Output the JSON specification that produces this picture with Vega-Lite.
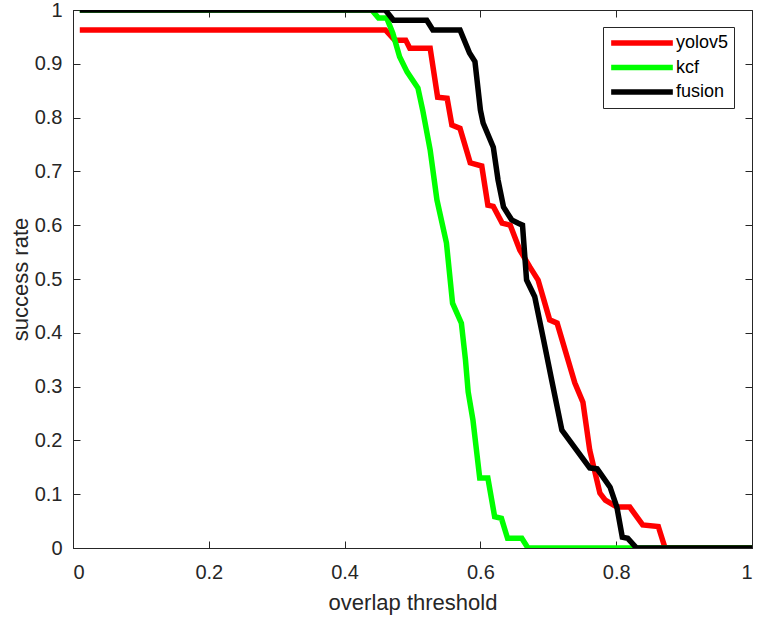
{
  "$schema": "https://vega.github.io/schema/vega-lite/v6.json",
  "width": 679,
  "height": 538,
  "autosize": {"type": "none"},
  "padding": {"left": 73, "top": 10, "right": 13, "bottom": 74},
  "background": "white",
  "config": {
    "font": "Liberation Sans",
    "view": {"stroke": "#262626", "strokeWidth": 1},
    "axis": {
      "grid": false,
      "domainColor": "#262626",
      "tickColor": "#262626",
      "labelColor": "#262626",
      "titleColor": "#262626",
      "labelFont": "Liberation Sans",
      "titleFont": "Liberation Sans",
      "labelFontSize": 20,
      "titleFontSize": 22,
      "titleFontWeight": "normal"
    }
  },
  "data": {
    "values": [
      {"x": 0.01, "y": 0.963, "s": "yolov5"},
      {"x": 0.46, "y": 0.963, "s": "yolov5"},
      {"x": 0.474, "y": 0.944, "s": "yolov5"},
      {"x": 0.49, "y": 0.944, "s": "yolov5"},
      {"x": 0.496, "y": 0.929, "s": "yolov5"},
      {"x": 0.526, "y": 0.929, "s": "yolov5"},
      {"x": 0.537, "y": 0.838, "s": "yolov5"},
      {"x": 0.551, "y": 0.836, "s": "yolov5"},
      {"x": 0.558, "y": 0.786, "s": "yolov5"},
      {"x": 0.57, "y": 0.78, "s": "yolov5"},
      {"x": 0.585, "y": 0.716, "s": "yolov5"},
      {"x": 0.602, "y": 0.71, "s": "yolov5"},
      {"x": 0.611, "y": 0.637, "s": "yolov5"},
      {"x": 0.619, "y": 0.635, "s": "yolov5"},
      {"x": 0.632, "y": 0.604, "s": "yolov5"},
      {"x": 0.644, "y": 0.6, "s": "yolov5"},
      {"x": 0.658, "y": 0.554, "s": "yolov5"},
      {"x": 0.673, "y": 0.522, "s": "yolov5"},
      {"x": 0.685, "y": 0.498, "s": "yolov5"},
      {"x": 0.702, "y": 0.424, "s": "yolov5"},
      {"x": 0.713, "y": 0.418, "s": "yolov5"},
      {"x": 0.739, "y": 0.307, "s": "yolov5"},
      {"x": 0.751, "y": 0.271, "s": "yolov5"},
      {"x": 0.761, "y": 0.182, "s": "yolov5"},
      {"x": 0.776, "y": 0.102, "s": "yolov5"},
      {"x": 0.784, "y": 0.089, "s": "yolov5"},
      {"x": 0.801, "y": 0.076, "s": "yolov5"},
      {"x": 0.82, "y": 0.076, "s": "yolov5"},
      {"x": 0.839, "y": 0.043, "s": "yolov5"},
      {"x": 0.862, "y": 0.04, "s": "yolov5"},
      {"x": 0.872, "y": 0.0, "s": "yolov5"},
      {"x": 1.0, "y": 0.0, "s": "yolov5"},
      {"x": 0.01, "y": 1.0, "s": "kcf"},
      {"x": 0.44, "y": 1.0, "s": "kcf"},
      {"x": 0.45, "y": 0.985, "s": "kcf"},
      {"x": 0.462, "y": 0.985, "s": "kcf"},
      {"x": 0.471, "y": 0.957, "s": "kcf"},
      {"x": 0.481, "y": 0.913, "s": "kcf"},
      {"x": 0.492, "y": 0.885, "s": "kcf"},
      {"x": 0.508, "y": 0.855, "s": "kcf"},
      {"x": 0.515, "y": 0.814, "s": "kcf"},
      {"x": 0.526, "y": 0.74, "s": "kcf"},
      {"x": 0.536, "y": 0.647, "s": "kcf"},
      {"x": 0.55, "y": 0.567, "s": "kcf"},
      {"x": 0.559, "y": 0.455, "s": "kcf"},
      {"x": 0.572, "y": 0.418, "s": "kcf"},
      {"x": 0.578, "y": 0.35, "s": "kcf"},
      {"x": 0.582, "y": 0.29, "s": "kcf"},
      {"x": 0.589, "y": 0.238, "s": "kcf"},
      {"x": 0.599, "y": 0.13, "s": "kcf"},
      {"x": 0.611, "y": 0.13, "s": "kcf"},
      {"x": 0.621, "y": 0.058, "s": "kcf"},
      {"x": 0.631, "y": 0.055, "s": "kcf"},
      {"x": 0.64, "y": 0.018, "s": "kcf"},
      {"x": 0.661, "y": 0.018, "s": "kcf"},
      {"x": 0.67, "y": 0.0, "s": "kcf"},
      {"x": 1.0, "y": 0.0, "s": "kcf"},
      {"x": 0.01, "y": 1.0, "s": "fusion"},
      {"x": 0.46, "y": 1.0, "s": "fusion"},
      {"x": 0.472, "y": 0.981, "s": "fusion"},
      {"x": 0.521, "y": 0.981, "s": "fusion"},
      {"x": 0.53, "y": 0.963, "s": "fusion"},
      {"x": 0.57, "y": 0.963, "s": "fusion"},
      {"x": 0.584, "y": 0.92, "s": "fusion"},
      {"x": 0.592, "y": 0.904, "s": "fusion"},
      {"x": 0.6, "y": 0.814, "s": "fusion"},
      {"x": 0.604, "y": 0.79, "s": "fusion"},
      {"x": 0.619, "y": 0.745, "s": "fusion"},
      {"x": 0.626, "y": 0.684, "s": "fusion"},
      {"x": 0.634, "y": 0.634, "s": "fusion"},
      {"x": 0.646, "y": 0.61, "s": "fusion"},
      {"x": 0.655, "y": 0.604, "s": "fusion"},
      {"x": 0.662, "y": 0.6, "s": "fusion"},
      {"x": 0.668, "y": 0.498, "s": "fusion"},
      {"x": 0.68, "y": 0.467, "s": "fusion"},
      {"x": 0.693, "y": 0.387, "s": "fusion"},
      {"x": 0.705, "y": 0.312, "s": "fusion"},
      {"x": 0.72, "y": 0.219, "s": "fusion"},
      {"x": 0.761, "y": 0.149, "s": "fusion"},
      {"x": 0.772, "y": 0.147, "s": "fusion"},
      {"x": 0.791, "y": 0.113, "s": "fusion"},
      {"x": 0.801, "y": 0.076, "s": "fusion"},
      {"x": 0.809, "y": 0.02, "s": "fusion"},
      {"x": 0.817, "y": 0.018, "s": "fusion"},
      {"x": 0.83, "y": 0.0, "s": "fusion"},
      {"x": 1.0, "y": 0.0, "s": "fusion"}
    ]
  },
  "resolve": {"axis": {"x": "independent", "y": "independent"}},
  "layer": [
    {
      "mark": {"type": "line", "opacity": 0},
      "encoding": {
        "x": {
          "field": "x", "type": "quantitative",
          "scale": {"domain": [0, 1], "nice": false},
          "axis": {"orient": "top", "offset": -7, "tickSize": 7, "values": [0, 0.2, 0.4, 0.6, 0.8, 1], "labels": false, "domain": false, "title": null}
        },
        "y": {
          "field": "y", "type": "quantitative",
          "scale": {"domain": [0, 1], "nice": false},
          "axis": {"orient": "right", "offset": -7, "tickSize": 7, "values": [0, 0.1, 0.2, 0.3, 0.4, 0.5, 0.6, 0.7, 0.8, 0.9, 1], "labels": false, "domain": false, "title": null}
        }
      }
    },
    {
      "mark": {"type": "line", "opacity": 0},
      "encoding": {
        "x": {
          "field": "x", "type": "quantitative",
          "axis": {"orient": "bottom", "offset": -7, "tickSize": 7, "values": [0, 0.2, 0.4, 0.6, 0.8, 1], "labels": false, "domain": false, "title": null}
        },
        "y": {
          "field": "y", "type": "quantitative",
          "axis": {"orient": "left", "offset": -7, "tickSize": 7, "values": [0, 0.1, 0.2, 0.3, 0.4, 0.5, 0.6, 0.7, 0.8, 0.9, 1], "labels": false, "domain": false, "title": null}
        }
      }
    },
    {
      "mark": {"type": "line", "strokeWidth": 5.5, "clip": true},
      "encoding": {
        "x": {
          "field": "x", "type": "quantitative",
          "axis": {
            "orient": "bottom",
            "values": [0, 0.2, 0.4, 0.6, 0.8, 1],
            "format": "~g",
            "title": "overlap threshold",
            "ticks": false,
            "tickSize": 0,
            "labelPadding": 14,
            "titlePadding": 10
          }
        },
        "y": {
          "field": "y", "type": "quantitative",
          "axis": {
            "orient": "left",
            "values": [0, 0.1, 0.2, 0.3, 0.4, 0.5, 0.6, 0.7, 0.8, 0.9, 1],
            "format": "~g",
            "title": "success rate",
            "ticks": false,
            "tickSize": 0,
            "labelPadding": 11,
            "titlePadding": 2
          }
        },
        "color": {
          "field": "s", "type": "nominal",
          "scale": {"domain": ["yolov5", "kcf", "fusion"], "range": ["#ff0000", "#00ff00", "#000000"]},
          "legend": {
            "title": null,
            "orient": "none",
            "legendX": 530,
            "legendY": 17,
            "symbolType": "M-3.9,0H3.9",
            "symbolStrokeWidth": 5.5,
            "symbolSize": 250,
            "symbolOffset": 23,
            "labelFontSize": 18,
            "labelColor": "#000000",
            "labelFont": "Liberation Sans",
            "strokeColor": "#262626",
            "fillColor": "white",
            "padding": 5,
            "rowPadding": 2.5,
            "labelOffset": 23
          }
        },
        "order": {"field": "x", "type": "quantitative"}
      }
    }
  ]
}
